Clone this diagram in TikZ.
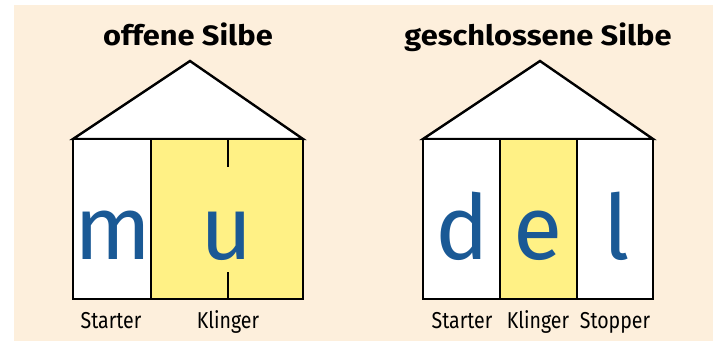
\documentclass[tikz,border=0pt]{standalone}
\usepackage{fontspec}
\setmainfont{Fira Sans}
\usepackage{tikz}
\usetikzlibrary{positioning}
\definecolor{paper}{HTML}{FDEFDC}
\definecolor{klang}{HTML}{FFF185}
\definecolor{ink}{HTML}{1A5995}

\begin{document}
\begin{tikzpicture}[x=1pt, y=-1pt, line width=2.4pt, line join=miter,
    title/.style={anchor=base, inner sep=0pt, font=\bfseries\fontsize{28}{28}\selectfont, xscale=1.1},
    letter/.style={anchor=base, inner sep=0pt, text=ink, font=\fontsize{90}{90}\selectfont},
    part/.style={anchor=base, inner sep=0pt, font=\fontsize{23}{23}\selectfont, xscale=0.85}]
    \useasboundingbox (0,0) rectangle (719,342);
    \fill[paper] (14,5) rectangle (713,341);

    % Haus 1: offene Silbe
    \node[title] (t1) at (188,46) {offene Silbe};
    \filldraw[fill=white] (73,139) -- (190,61) -- (303,139) -- cycle; % Dach
    \fill[white] (73,139) rectangle (151,299);
    \fill[klang] (151,139) rectangle (303,299);
    \draw (73,139) rectangle (303,299);
    \draw (151,139) -- (151,299);
    \draw (228,139) -- (228,167);
    \draw (228,272) -- (228,299);
    \node[letter] (m) at (113,259) {m};
    \node[letter] (u) at (227,259) {u};
    \node[part] (s1) at (111,328) {Starter};
    \node[part] (k1) at (228,328) {Klinger};

    % Haus 2: geschlossene Silbe
    \node[title] (t2) at (538,46) {geschlossene Silbe};
    \filldraw[fill=white] (423,139) -- (540,61) -- (653,139) -- cycle; % Dach
    \fill[white] (423,139) rectangle (500,299);
    \fill[klang] (500,139) rectangle (577,299);
    \fill[white] (577,139) rectangle (653,299);
    \draw (423,139) rectangle (653,299);
    \draw (500,139) -- (500,299);
    \draw (577,139) -- (577,299);
    \node[letter] (d) at (462,259) {d};
    \node[letter] (e) at (538,259) {e};
    \node[letter] (l) at (617,259) {l};
    \node[part] (s2) at (462,328) {Starter};
    \node[part] (k2) at (538,328) {Klinger};
    \node[part] (st) at (615,328) {Stopper};
\end{tikzpicture}
\end{document}
